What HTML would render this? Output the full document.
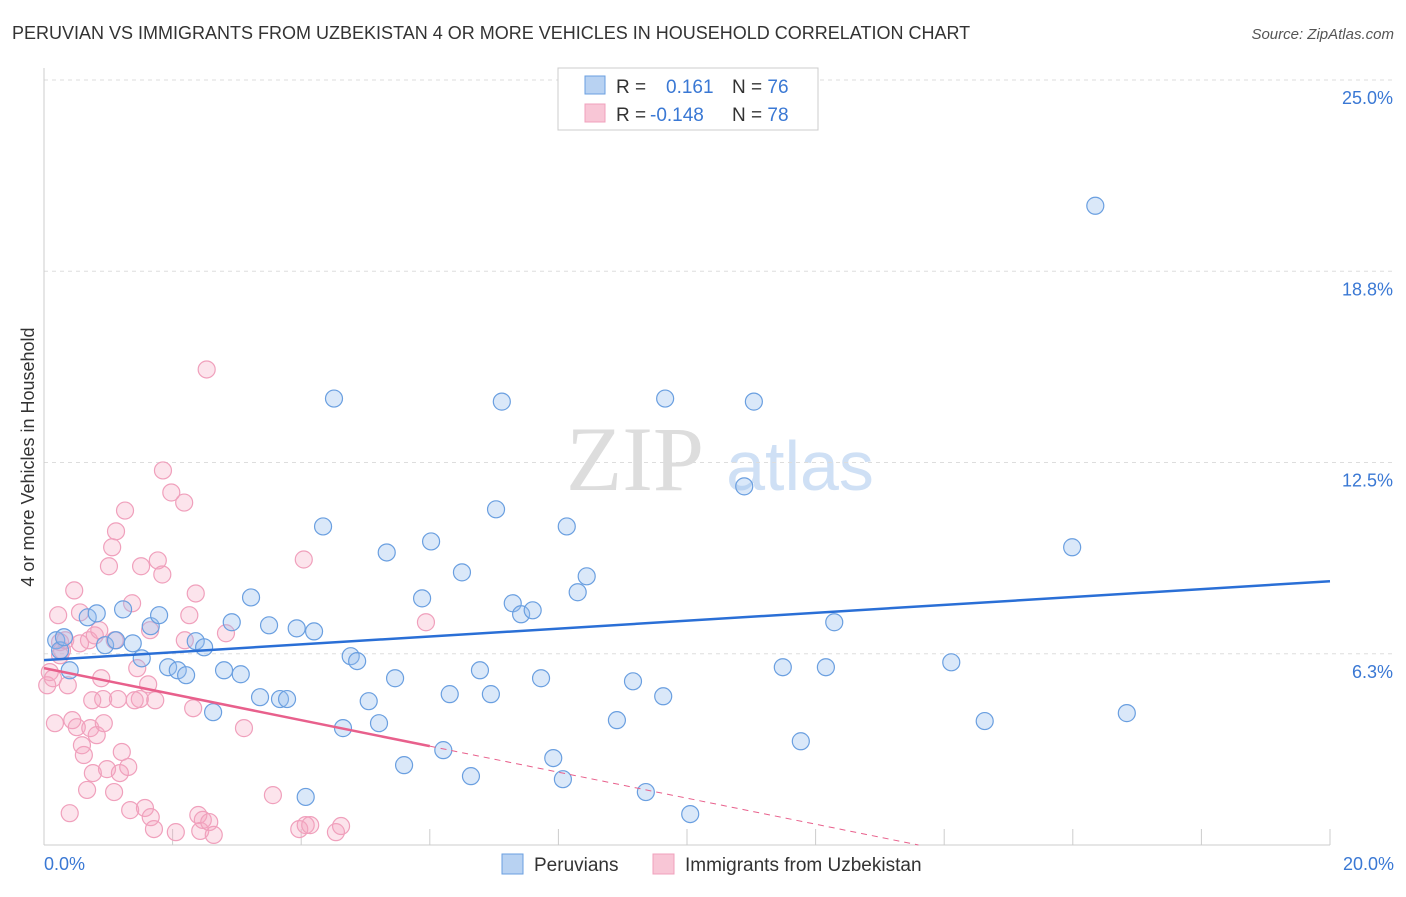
<!DOCTYPE html>
<html><head><meta charset="utf-8"><style>
body{margin:0;background:#fff;font-family:"Liberation Sans",sans-serif;}
</style></head><body>
<svg id="chart" width="1406" height="892" xmlns="http://www.w3.org/2000/svg" font-family="Liberation Sans, sans-serif">
<text x="12" y="39" font-size="18" fill="#333">PERUVIAN VS IMMIGRANTS FROM UZBEKISTAN 4 OR MORE VEHICLES IN HOUSEHOLD CORRELATION CHART</text>
<text x="1394" y="39" font-size="15" fill="#555" text-anchor="end" font-style="italic">Source: ZipAtlas.com</text>
<text transform="translate(34,457) rotate(-90)" font-size="18" fill="#333" text-anchor="middle">4 or more Vehicles in Household</text>
<g><text x="635" y="490" font-size="92" fill="#ddd" text-anchor="middle" font-family="Liberation Serif, serif">ZIP</text><text x="800" y="490" font-size="70" fill="#cfe0f5" text-anchor="middle">atlas</text></g>
<g id="grid"></g><g id="axes"></g><g id="pts"></g><g id="trend"></g>
<g>
<rect x="558" y="68" width="260" height="62" fill="#fff" stroke="#ccc"/>
<rect x="585" y="76" width="20" height="18" fill="#b8d2f2" stroke="#6a9fe0"/>
<rect x="585" y="104" width="20" height="18" fill="#f8c6d6" stroke="#f0a0bc"/>
<text x="616" y="93" font-size="19" fill="#333">R =  <tspan fill="#3a78d4" x="666">0.161</tspan><tspan x="732">N = </tspan><tspan fill="#3a78d4">76</tspan></text>
<text x="616" y="121" font-size="19" fill="#333">R = <tspan fill="#3a78d4" x="650">-0.148</tspan><tspan x="732">N = </tspan><tspan fill="#3a78d4">78</tspan></text>
</g>
<g>
<rect x="502" y="854" width="21" height="20" fill="#b8d2f2" stroke="#6a9fe0"/>
<text x="534" y="871" font-size="19" fill="#333">Peruvians</text>
<rect x="653" y="854" width="21" height="20" fill="#f8c6d6" stroke="#f0a0bc"/>
<text x="685" y="871" font-size="19" fill="#333">Immigrants from Uzbekistan</text>
</g>
</svg>
<script>
const yTicks=[25,18.75,12.5,6.25];
const yTickLabels=["25.0%","18.8%","12.5%","6.3%"];
const blueX=[.19,.25,.31,.40,.68,.82,.95,1.12,1.23,1.38,1.52,1.66,1.79,1.93,2.08,2.21,2.36,2.49,2.63,2.80,2.92,3.06,3.22,3.36,3.50,3.67,3.78,3.93,4.07,4.20,4.34,4.51,4.65,4.77,4.87,5.05,5.21,5.33,5.46,5.60,5.88,6.02,6.21,6.31,6.50,6.64,6.78,6.95,7.03,7.12,7.29,7.42,7.60,7.73,7.92,8.07,8.13,8.30,8.44,8.91,9.16,9.36,9.63,9.66,10.05,10.89,11.04,11.49,11.77,12.16,12.29,14.11,14.63,15.99,16.35,16.84];
const blueY=[6.69,6.36,6.79,5.71,7.44,7.57,6.53,6.69,7.70,6.59,6.10,7.15,7.51,5.81,5.71,5.55,6.66,6.46,4.34,5.71,7.28,5.58,8.09,4.83,7.18,4.77,4.77,7.08,1.57,6.98,10.41,14.59,3.82,6.17,6.01,4.70,3.98,9.56,5.45,2.61,8.06,9.92,3.10,4.93,8.91,2.25,5.71,4.93,10.97,14.49,7.90,7.54,7.67,5.45,2.84,2.15,10.41,8.26,8.78,4.08,5.35,1.73,4.86,14.59,1.01,11.72,14.49,5.81,3.39,5.81,7.28,5.97,4.05,9.73,20.89,4.31];
const pinkX=[.05,.09,.14,.17,.22,.25,.28,.33,.37,.40,.44,.47,.51,.56,.59,.62,.67,.70,.72,.76,.79,.82,.86,.89,.92,.93,.98,1.01,1.06,1.09,1.12,1.15,1.18,1.21,1.26,1.31,1.34,1.37,1.45,1.49,1.51,1.57,1.62,1.66,1.71,1.77,1.84,1.85,1.98,2.05,2.18,2.26,2.32,2.36,2.40,2.43,2.47,2.53,2.57,2.64,2.83,3.11,3.56,3.97,4.04,4.07,4.14,4.54,4.62,5.94,1.65,1.10,.56,.25,1.41,.75,2.19,1.73];
const pinkY=[5.22,5.65,5.45,3.98,7.51,6.63,6.36,6.69,5.22,1.04,4.08,8.32,3.85,7.60,3.26,2.94,1.80,6.69,3.82,2.35,6.85,3.59,7.02,5.45,4.77,3.98,2.48,9.11,9.73,1.73,10.25,4.77,2.35,3.04,10.93,2.55,1.14,7.90,5.78,4.77,9.11,1.21,5.25,0.91,0.52,9.30,8.84,12.24,11.52,0.42,11.19,7.51,4.47,8.22,0.98,0.46,0.82,15.54,0.75,0.33,6.92,3.82,1.63,0.52,9.33,0.65,0.65,0.42,0.62,7.28,7.02,6.69,6.59,6.20,4.73,4.73,6.69,4.73];
const blueTrend=[6.04,8.62];
const pinkTrend=[5.78,-0.425];
const NS="http://www.w3.org/2000/svg";
const X0=44,X1=1330,Y0=845,YT=80;
const xs=v=>X0+v/20*(X1-X0);
const ys=v=>Y0-v/25*(Y0-YT);
function mk(tag,attrs,parent){const e=document.createElementNS(NS,tag);for(const k in attrs)e.setAttribute(k,attrs[k]);document.getElementById(parent).appendChild(e);return e;}
mk('line',{x1:X0,y1:68,x2:X0,y2:Y0,stroke:'#ccc'},'axes');
mk('line',{x1:X0,y1:Y0,x2:X1,y2:Y0,stroke:'#ccc'},'axes');
yTicks.forEach((t,i)=>{
 const g=mk('line',{x1:X0,x2:1394,y1:ys(t),y2:ys(t),stroke:'#ddd','stroke-dasharray':'4,4'},'grid');
 
 
 const l=mk('text',{x:1393,y:ys(t)+24,'font-size':18,fill:'#3a78d4','text-anchor':'end'},'axes');
 l.textContent=yTickLabels[i];
 
 
});
for(let i=1;i<=10;i++){const t=mk('line',{x1:xs(i*2),x2:xs(i*2),y1:Y0-16,y2:Y0,stroke:'#ccc'},'axes');}
const xl0=mk('text',{x:44,y:870,'font-size':18,fill:'#3a78d4'},'axes');xl0.textContent='0.0%';


const xl1=mk('text',{x:1394,y:870,'font-size':18,fill:'#3a78d4','text-anchor':'end'},'axes');xl1.textContent='20.0%';


pinkX.forEach((v,i)=>{const c=mk('circle',{cx:xs(v),cy:ys(pinkY[i]),r:8.5,fill:'rgba(244,166,192,0.3)',stroke:'#f0a0bc','stroke-width':1.2},'pts');
 
 });
blueX.forEach((v,i)=>{const c=mk('circle',{cx:xs(v),cy:ys(blueY[i]),r:8.5,fill:'rgba(150,190,238,0.35)',stroke:'#6a9fe0','stroke-width':1.2},'pts');
 
 });
const bl=mk('line',{x1:xs(0),y1:ys(blueTrend[0]),x2:xs(20),y2:ys(blueTrend[1]),stroke:'#2a6fd6','stroke-width':2.5},'trend');


const pz=-pinkTrend[0]/pinkTrend[1];
const pl=mk('line',{x1:xs(0),y1:ys(pinkTrend[0]),x2:xs(6),y2:ys(pinkTrend[0]+6*pinkTrend[1]),stroke:'#e8608c','stroke-width':2.5},'trend');


const pd=mk('line',{x1:xs(6),y1:ys(pinkTrend[0]+6*pinkTrend[1]),x2:xs(pz),y2:ys(0),stroke:'#e8608c','stroke-width':1,'stroke-dasharray':'6,5'},'trend');


</script>
</body></html>
